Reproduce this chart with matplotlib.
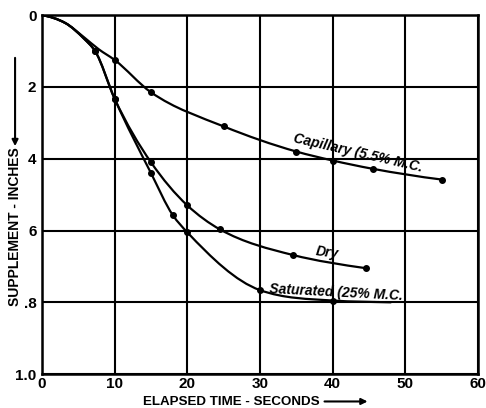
import numpy as np
import matplotlib
matplotlib.use("Agg")
import matplotlib.pyplot as plt
from matplotlib.path import Path
from matplotlib.patches import PathPatch, FancyArrowPatch

plt.rcParams['font.family'] = ['Liberation Sans Narrow', 'Liberation Sans', 'DejaVu Sans']
plt.rcParams['font.weight'] = 'bold'

# points (seconds, inches of supplement)
cap_t = [0, 3.2, 5.8, 7.8, 10, 15, 25, 35, 40, 45.5, 55]
cap_s = [0, 0.022, 0.062, 0.095, 0.125, 0.215, 0.31, 0.38, 0.405, 0.428, 0.458]
cap_shown = [4, 5, 6, 7, 8, 9, 10]

dry_t = [0, 3.2, 5.8, 7.3, 10, 15, 20, 24.5, 34.5, 44.6]
dry_s = [0, 0.022, 0.066, 0.10, 0.233, 0.41, 0.53, 0.597, 0.668, 0.705]
dry_shown = [3, 4, 5, 6, 7, 8, 9]

sat_t = [0, 3.2, 5.8, 7.3, 10, 15, 18, 20, 30, 40, 48]
sat_s = [0, 0.022, 0.066, 0.10, 0.233, 0.44, 0.557, 0.605, 0.766, 0.795, 0.80]
sat_shown = [3, 4, 5, 6, 7, 8, 9]

xticks = [0, 10, 20, 30, 40, 50, 60]
yticks = [0, 0.2, 0.4, 0.6, 0.8, 1.0]
ylabels = ['0', '2', '4', '6', '.8', '1.0']


def smooth_path(x, y):
    # cubic hermite through the points (softened tangents), drawn as beziers
    x = np.asarray(x, float)
    y = np.asarray(y, float)
    h = np.diff(x)
    d = np.diff(y) / h
    n = len(x)
    m = np.zeros(n)
    for i in range(1, n - 1):
        if d[i - 1] * d[i] > 0:
            w1 = 2 * h[i] + h[i - 1]
            w2 = h[i] + 2 * h[i - 1]
            harm = (w1 + w2) / (w1 / d[i - 1] + w2 / d[i])
            mean = (d[i - 1] * h[i] + d[i] * h[i - 1]) / (h[i] + h[i - 1])
            m[i] = 0.5 * (harm + mean)
    m[0] = d[0] * 0.5
    m[-1] = d[-1] * 0.8
    verts = [(x[0], y[0])]
    codes = [Path.MOVETO]
    for i in range(n - 1):
        verts += [(x[i] + h[i] / 3, y[i] + m[i] * h[i] / 3),
                  (x[i + 1] - h[i] / 3, y[i + 1] - m[i + 1] * h[i] / 3),
                  (x[i + 1], y[i + 1])]
        codes += [Path.CURVE4] * 3
    return Path(verts, codes)


fig = plt.figure(figsize=(4.86, 4.08), dpi=100)
ax = fig.add_axes([0.0864, 0.083, 0.897, 0.880])

for t, s, shown in [(cap_t, cap_s, cap_shown), (dry_t, dry_s, dry_shown),
                    (sat_t, sat_s, sat_shown)]:
    ax.add_patch(PathPatch(smooth_path(t, s), fill=False, lw=1.6,
                           color='black', capstyle='round'))
    ax.plot([t[i] for i in shown], [s[i] for i in shown], 'o',
            color='black', ms=4, zorder=5)

ax.set_xlim(0, 60)
ax.set_ylim(1.0, 0)
ax.set_xticks(xticks)
ax.set_yticks(yticks)
ax.set_yticklabels(ylabels)
ax.grid(True, color='black', lw=1.5)
ax.set_axisbelow(True)
for sp in ax.spines.values():
    sp.set_linewidth(1.8)
ax.tick_params(length=0, labelsize=11)
ax.tick_params(axis='x', pad=2)
ax.tick_params(axis='y', pad=4)

ax.text(43.5, 0.385, 'Capillary (5.5% M.C.', rotation=-13, style='italic',
        fontsize=10, ha='center', va='center')
ax.text(39.3, 0.662, 'Dry', rotation=-8, style='italic',
        fontsize=10, ha='center', va='center')
ax.text(40.5, 0.772, 'Saturated (25% M.C.', rotation=-3, style='italic',
        fontsize=10, ha='center', va='center')

fig.text(0.294, 0.014, 'ELAPSED TIME - SECONDS', fontsize=9.6, ha='left', va='center')
fig.add_artist(FancyArrowPatch(
    (0.662, 0.016), (0.762, 0.016), transform=fig.transFigure,
    arrowstyle='-|>', mutation_scale=9, lw=1.5, color='black'))

fig.text(0.031, 0.444, 'SUPPLEMENT - INCHES', fontsize=10, rotation=90,
         ha='center', va='center')
fig.add_artist(FancyArrowPatch(
    (0.031, 0.865), (0.031, 0.635), transform=fig.transFigure,
    arrowstyle='-|>', mutation_scale=9, lw=1.5, color='black'))

fig.savefig('out.png', dpi=100)
